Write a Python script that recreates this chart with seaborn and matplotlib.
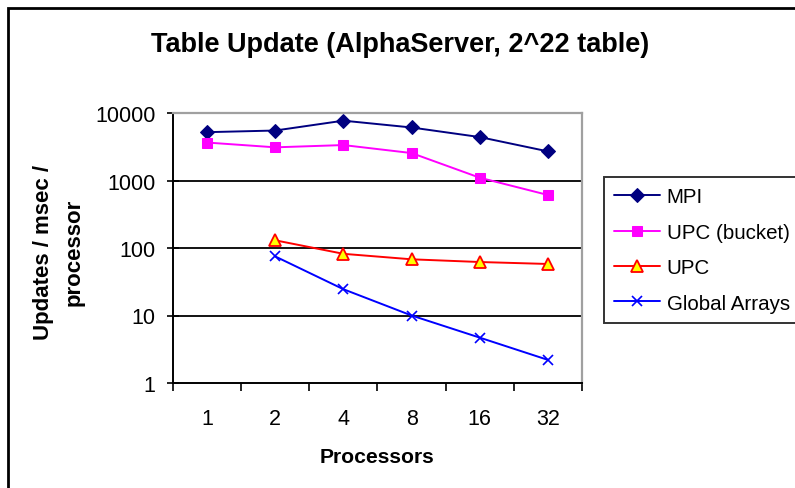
import matplotlib
matplotlib.use("Agg")
import matplotlib.pyplot as plt
from matplotlib.patches import Rectangle
import numpy as np
import pandas as pd
import seaborn as sns

# data
processors = ["1", "2", "4", "8", "16", "32"]
mpi = [5200, 5500, 7700, 6100, 4400, 2700]
upc_bucket = [3650, 3100, 3350, 2550, 1100, 610]
upc = [np.nan, 130, 82, 68, 62, 58]
global_arrays = [np.nan, 75, 24.5, 10, 4.7, 2.2]
y_ticks = [1, 10, 100, 1000, 10000]

sns.set_style("white")
plt.rcParams["font.family"] = ["Liberation Sans", "DejaVu Sans"]
plt.rcParams["text.color"] = "black"
plt.rcParams["axes.labelcolor"] = "black"

fig = plt.figure(figsize=(7.95, 4.89), dpi=100)
ax = fig.add_axes([173 / 795, 1 - 384 / 489, (582 - 173) / 795, (384 - 114) / 489])

pos = np.arange(len(processors))
series = [
    ("MPI", mpi, dict(color="#000080", marker="D", markersize=7.5,
                      markerfacecolor="#000080", markeredgecolor="#000080")),
    ("UPC (bucket)", upc_bucket, dict(color="#FF00FF", marker="s", markersize=7.5,
                                      markerfacecolor="#FF00FF", markeredgecolor="#FF00FF")),
    ("UPC", upc, dict(color="#FF0000", marker="^", markersize=8,
                      markerfacecolor="#FFFF00", markeredgecolor="#FF0000", markeredgewidth=1.3)),
    ("Global Arrays", global_arrays, dict(color="#0000FF", marker="x", markersize=6.5,
                                          markeredgecolor="#0000FF", markeredgewidth=1.2)),
]

for name, vals, style in series:
    df = pd.DataFrame({"x": pos, "y": vals}).dropna()
    sns.lineplot(data=df, x="x", y="y", ax=ax, label=name, linewidth=1.4, **style)

ax.set_yscale("log")
ax.set_ylim(1, 10000)
ax.set_xlim(-0.5, len(processors) - 0.5)

# horizontal gridlines
for t in y_ticks[1:-1]:
    ax.axhline(t, color="black", linewidth=1.3, zorder=0.5)

ax.set_yticks(y_ticks)
ax.set_yticklabels([str(t) for t in y_ticks])
ax.yaxis.set_minor_locator(matplotlib.ticker.NullLocator())
ax.tick_params(axis="y", which="major", direction="inout", length=9, width=1.2,
               labelsize=15.5, pad=8, left=True, colors="black")

ax.set_xticks(np.arange(-0.5, len(processors), 1.0))
ax.set_xticklabels([])
ax.set_xticks(pos, minor=True)
ax.set_xticklabels(processors, minor=True)
ax.tick_params(axis="x", which="major", direction="out", length=6, width=1.2,
               bottom=True, colors="black")
ax.tick_params(axis="x", which="minor", length=0, labelsize=15.5, pad=18, colors="black")

for side in ["left", "bottom"]:
    ax.spines[side].set_color("black")
    ax.spines[side].set_linewidth(1.4)
for side in ["top", "right"]:
    ax.spines[side].set_color("#A0A0A0")
    ax.spines[side].set_linewidth(1.6)

ax.set_xlabel("Processors", fontsize=15.2, fontweight="bold")
ax.xaxis.set_label_coords((377 - 173) / 409, (384 - 458) / 270)
ax.xaxis.label.set_va("center")
ax.set_ylabel("Updates / msec /\nprocessor", fontsize=16, fontweight="bold", linespacing=1.6)
ax.yaxis.set_label_coords((59 - 173) / 409, (384 - 252) / 270)
ax.yaxis.label.set_va("center")
fig.text(400 / 795, 1 - 45 / 489, "Table Update (AlphaServer, 2^22 table)",
         ha="center", va="center", fontsize=19.5, fontweight="bold")

leg = ax.legend(loc="upper left", bbox_to_anchor=(604 / 795, 1 - 178 / 489),
                bbox_transform=fig.transFigure, fontsize=14.8, frameon=True,
                fancybox=False, shadow=False, borderpad=0.5, labelspacing=0.8,
                handlelength=2.2, handletextpad=0.35, borderaxespad=0)
leg.get_frame().set_edgecolor("black")
leg.get_frame().set_linewidth(1.4)

# outer chart frame (extends beyond the right and bottom edges)
fig.patches.append(Rectangle((8 / 795, -0.1), 1.2, 1 - 9 / 489 + 0.1, transform=fig.transFigure,
                             fill=False, edgecolor="black", linewidth=2))

fig.savefig("out.png", dpi=100)
